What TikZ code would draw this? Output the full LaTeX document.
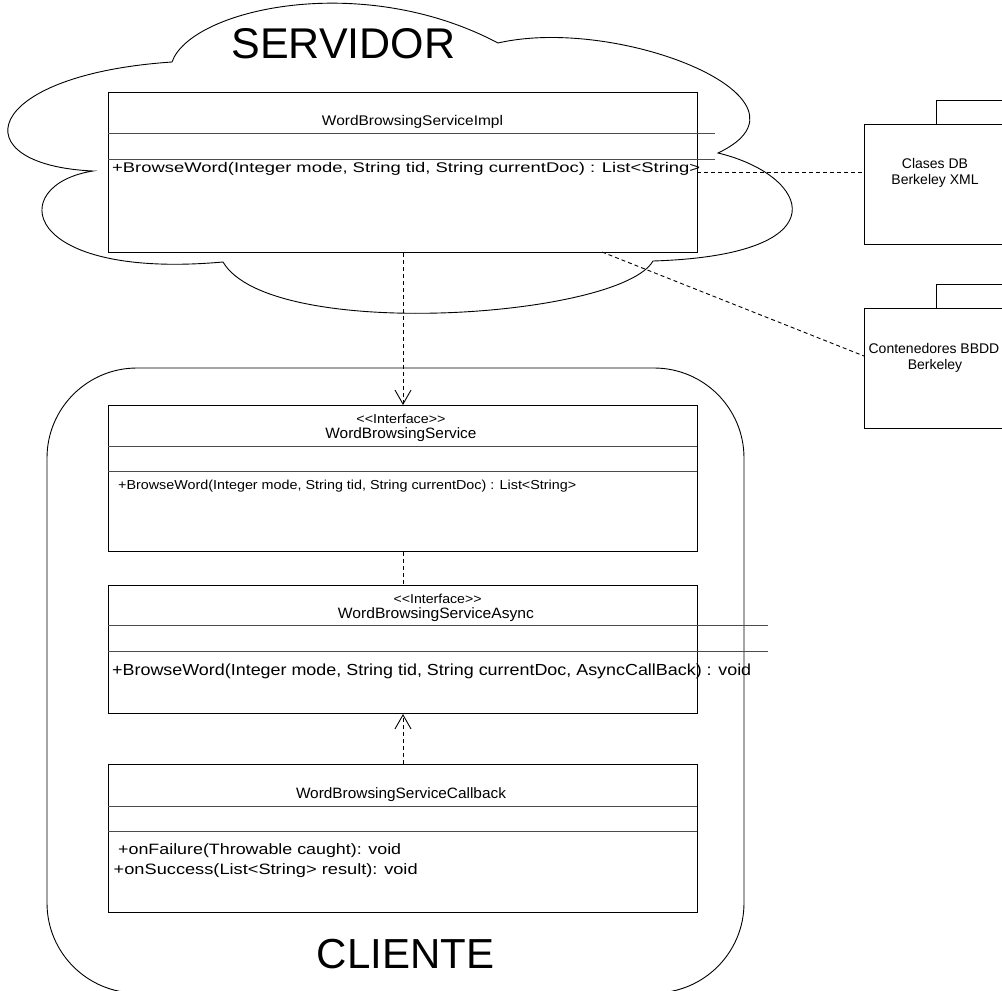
\documentclass[tikz,border=0pt]{standalone}
\usepackage{fontspec}
\setmainfont{Liberation Sans}
\usetikzlibrary{arrows.meta}
% text set at a given size and stretched to a given width
\newcommand{\stretchto}[3]{\resizebox{#1pt}{\height}{\fontsize{#2}{#2}\selectfont #3}}
% stereotype label, written so that << and >> stay two characters each
\newcommand{\stereo}{<{}<Interface>{}>}
\begin{document}
\begin{tikzpicture}[x=1pt,y=-1pt,
  umlbox/.style={draw, line width=1pt, fill=white, rectangle, inner sep=0pt, anchor=north west},
  sepline/.style={draw=black!70, line width=0.9pt},
  pkgbox/.style={draw, line width=1pt, fill=white},
  outline/.style={draw, line width=0.9pt},
  depline/.style={line width=0.9pt, dash pattern=on 4pt off 3pt},
  opentip/.style={-{Straight Barb[length=14pt,width=16pt,line width=0.9pt]}},
  txt/.style={inner sep=0pt, anchor=base},
  txtl/.style={inner sep=0pt, anchor=base west}]
\useasboundingbox (0,0) rectangle (1002,991);
\clip (0,0) rectangle (1002,991);

% server cloud
\draw[outline, fill=white] (172,62)
  .. controls (190,10) and (360,-30) .. (498,43)
  .. controls (620,15) and (830,100) .. (718,153)
  .. controls (810,175) and (845,255) .. (653,261)
  .. controls (620,318) and (270,342) .. (223,262)
  .. controls (20,280) and (5,185) .. (93,171)
  .. controls (-40,165) and (-20,75) .. (172,62) -- cycle;
\node[txt, font=\fontsize{43}{43}\selectfont] (servidor) at (343.5,58) {SERVIDOR};

% client container
\draw[outline, rounded corners=90pt] (47,368) rectangle (744,993);
\node[txt, font=\fontsize{42}{42}\selectfont] (cliente) at (405.5,968) {CLIENTE};

% WordBrowsingServiceImpl
\node[umlbox, minimum width=589pt, minimum height=160pt] (impl) at (108,92) {};
\draw[sepline] (108,133) -- (715,133);
\draw[sepline] (108,159) -- (715,159);
\node[txt] (implT) at (412.5,125) {\stretchto{181}{14}{WordBrowsingServiceImpl}};
\node[txtl] (implM) at (112,172) {\stretchto{588}{14}{+BrowseWord(Integer mode, String tid, String currentDoc) : List<String>}};

% WordBrowsingService
\node[umlbox, minimum width=589pt, minimum height=146pt] (wbs) at (108,405) {};
\draw[sepline] (108,446) -- (697,446);
\draw[sepline] (108,471) -- (697,471);
\node[txt] (wbsS) at (401,423) {\stretchto{89}{13}{\stereo}};
\node[txt] (wbsT) at (401,438) {\stretchto{151}{15}{WordBrowsingService}};
\node[txtl] (wbsM) at (118,489) {\stretchto{458}{13}{+BrowseWord(Integer mode, String tid, String currentDoc) : List<String>}};

% WordBrowsingServiceAsync
\node[umlbox, minimum width=589pt, minimum height=128pt] (async) at (108,585) {};
\draw[sepline] (108,625) -- (768,625);
\draw[sepline] (108,651) -- (768,651);
\node[txt] (asyncS) at (437.6,603) {\stretchto{88}{13}{\stereo}};
\node[txt] (asyncT) at (436,618) {\stretchto{196}{15}{WordBrowsingServiceAsync}};
\node[txtl] (asyncM) at (112,675) {\stretchto{639}{16}{+BrowseWord(Integer mode, String tid, String currentDoc, AsyncCallBack) : void}};

% WordBrowsingServiceCallback
\node[umlbox, minimum width=589pt, minimum height=148pt] (cb) at (108,764) {};
\draw[sepline] (108,806) -- (697,806);
\draw[sepline] (108,831) -- (697,831);
\node[txt] (cbT) at (401,798) {\stretchto{210}{15}{WordBrowsingServiceCallback}};
\node[txtl] (cbM1) at (118,854) {\stretchto{283}{15}{+onFailure(Throwable caught): void}};
\node[txtl] (cbM2) at (113.5,874) {\stretchto{304}{15}{+onSuccess(List<String> result): void}};

% packages
\draw[pkgbox] (936,100) rectangle (1010,124);
\node[pkgbox, rectangle, inner sep=0pt, anchor=north west, minimum width=146pt, minimum height=120pt] (clases) at (864,124) {};
\node[txt, font=\fontsize{14}{14}\selectfont] at (935,168) {Clases DB};
\node[txt, font=\fontsize{14}{14}\selectfont] at (935,184) {Berkeley XML};

\draw[pkgbox] (936,284) rectangle (1010,308);
\node[pkgbox, rectangle, inner sep=0pt, anchor=north west, minimum width=146pt, minimum height=120pt] (cont) at (864,308) {};
\node[txt, font=\fontsize{14}{14}\selectfont] at (934,353) {Contenedores BBDD};
\node[txt, font=\fontsize{14}{14}\selectfont] at (935,369) {Berkeley};

% dependencies
\coordinate (implR) at (697,172);
\coordinate (implB) at (602,252);
\coordinate (contL) at (864,356);
\draw[depline] (implR) -- (clases.west |- implR);
\draw[depline] (implB) -- (contL);
\draw[depline, opentip] (impl.south) -- (wbs.north);
\draw[depline] (wbs.south) -- (async.north);
\draw[depline, opentip] (cb.north) -- (async.south);
\end{tikzpicture}
\end{document}
